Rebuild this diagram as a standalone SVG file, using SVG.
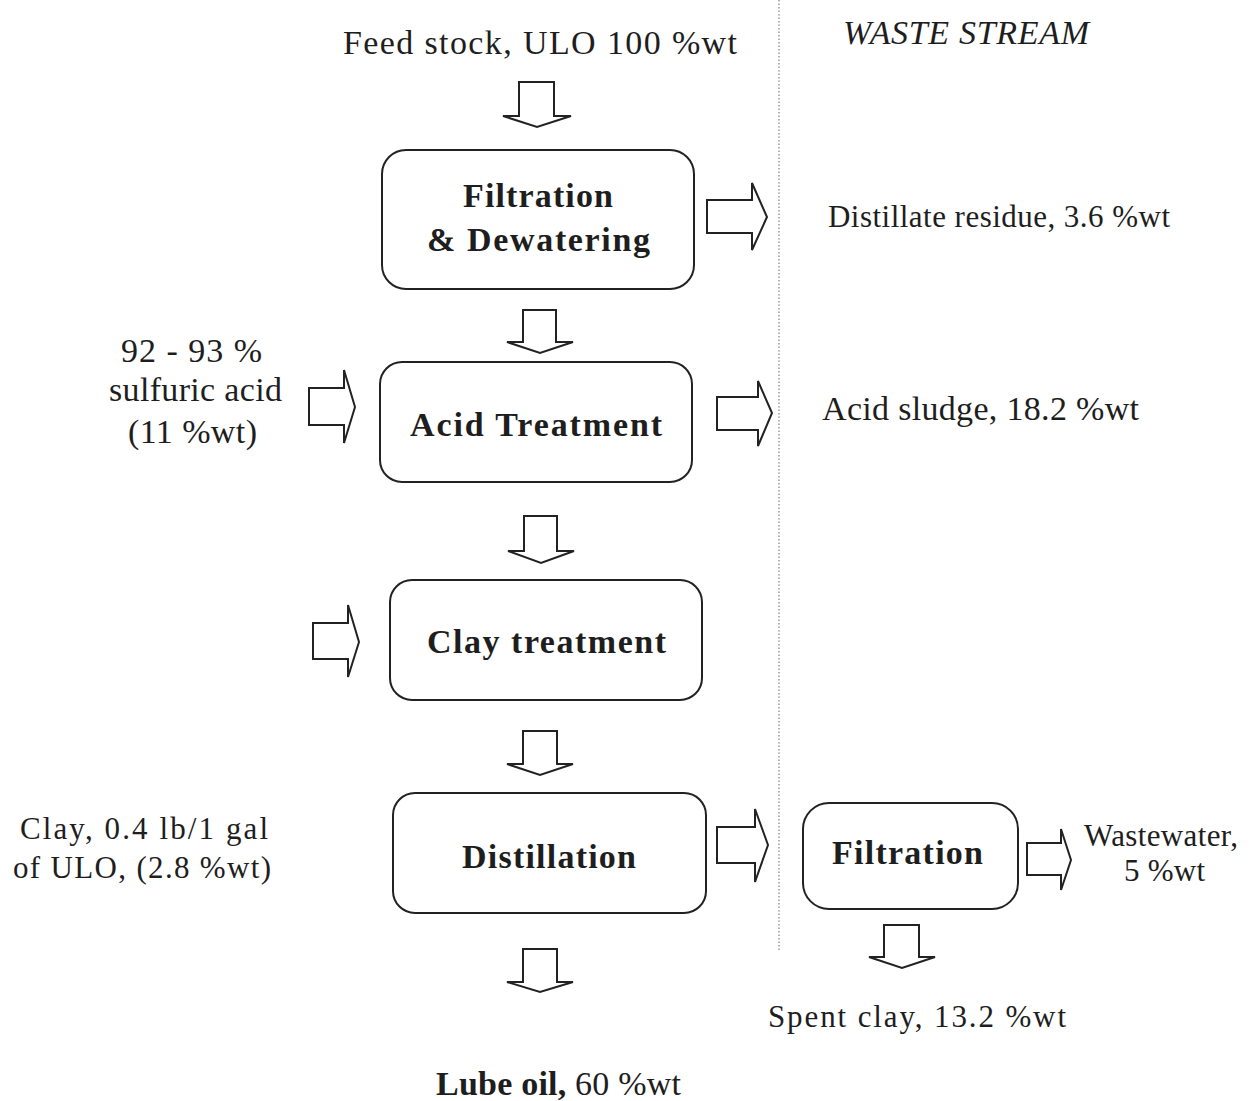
<svg xmlns="http://www.w3.org/2000/svg" width="1259" height="1101" viewBox="0 0 1259 1101">
  <style>
    .box { fill: #ffffff; stroke: #222; stroke-width: 2; }
    .arr { fill: #ffffff; stroke: #222; stroke-width: 2; stroke-linejoin: miter; }
    .t { font-family: "Liberation Serif", "Times New Roman", serif; font-size: 34px; fill: #1e1e1e; }
    .s { font-size: 31px; }
    .b { font-weight: bold; }
    .i { font-style: italic; }
    .sep { stroke: #9a9a9a; stroke-width: 1.5; stroke-dasharray: 1.5 2; fill: none; }
  </style>
  <rect width="1259" height="1101" fill="#ffffff"/>

  <!-- boundary between process and waste stream -->
  <line class="sep" x1="779" y1="0" x2="779" y2="950"/>

  <!-- process nodes -->
  <g id="filtration-dewatering">
    <rect class="box" x="382" y="150" width="312" height="139" rx="24"/>
    <text class="t b" x="463" y="207" textLength="150" lengthAdjust="spacing">Filtration</text>
    <text class="t b" x="427" y="251" textLength="223" lengthAdjust="spacing">&amp; Dewatering</text>
  </g>
  <g id="acid-treatment">
    <rect class="box" x="380" y="362" width="312" height="120" rx="22"/>
    <text class="t b" x="410" y="436" textLength="252" lengthAdjust="spacing">Acid Treatment</text>
  </g>
  <g id="clay-treatment">
    <rect class="box" x="390" y="580" width="312" height="120" rx="22"/>
    <text class="t b" x="427" y="653" textLength="239" lengthAdjust="spacing">Clay treatment</text>
  </g>
  <g id="distillation">
    <rect class="box" x="393" y="793" width="313" height="120" rx="22"/>
    <text class="t b" x="462" y="868" textLength="174" lengthAdjust="spacing">Distillation</text>
  </g>
  <g id="filtration">
    <rect class="box" x="803" y="803" width="215" height="106" rx="26"/>
    <text class="t b" x="832" y="864" textLength="151" lengthAdjust="spacing">Filtration</text>
  </g>

  <!-- stream labels -->
  <g id="feed">
    <text class="t" x="343" y="54" textLength="394" lengthAdjust="spacing">Feed stock, ULO 100 %wt</text>
  </g>
  <g id="waste-heading">
    <text class="t i" x="843" y="44" textLength="246" lengthAdjust="spacing">WASTE STREAM</text>
  </g>
  <g id="distillate-residue">
    <text class="t s" x="828" y="227" textLength="342" lengthAdjust="spacing">Distillate residue, 3.6 %wt</text>
  </g>
  <g id="sulfuric-acid">
    <text class="t" x="121" y="362" textLength="141" lengthAdjust="spacing">92 - 93 %</text>
    <text class="t" x="109" y="401" textLength="173" lengthAdjust="spacing">sulfuric acid</text>
    <text class="t" x="128" y="443" textLength="129" lengthAdjust="spacing">(11 %wt)</text>
  </g>
  <g id="acid-sludge">
    <text class="t" x="822" y="420" textLength="317" lengthAdjust="spacing">Acid sludge, 18.2 %wt</text>
  </g>
  <g id="clay">
    <text class="t s" x="20" y="839" textLength="248" lengthAdjust="spacing">Clay, 0.4 lb/1 gal</text>
    <text class="t s" x="13" y="878" textLength="258" lengthAdjust="spacing">of ULO, (2.8 %wt)</text>
  </g>
  <g id="wastewater">
    <text class="t s" x="1084" y="846" textLength="154" lengthAdjust="spacing">Wastewater,</text>
    <text class="t s" x="1124" y="881" textLength="81" lengthAdjust="spacing">5 %wt</text>
  </g>
  <g id="spent-clay">
    <text class="t s" x="768" y="1027" textLength="298" lengthAdjust="spacing">Spent clay, 13.2 %wt</text>
  </g>
  <g id="lube-oil">
    <text class="t" x="436" y="1095" textLength="245" lengthAdjust="spacing"><tspan class="b">Lube oil,</tspan> 60 %wt</text>
  </g>

  <!-- block arrows -->
  <g id="connectors">
    <!-- downward -->
    <polygon class="arr" points="519,82 554,82 554,116 571,116 537,127 503,116 519,116"/>
    <polygon class="arr" points="523,310 556,310 556,342 573,342 540,353 507,342 523,342"/>
    <polygon class="arr" points="524,516 557,516 557,551 574,551 541,563 508,551 524,551"/>
    <polygon class="arr" points="523,731 557,731 557,764 573,764 540,775 507,764 523,764"/>
    <polygon class="arr" points="523,949 557,949 557,982 573,982 540,992 507,982 523,982"/>
    <polygon class="arr" points="884,925 919,925 919,957 935,957 902,968 869,957 884,957"/>
    <!-- rightward -->
    <polygon class="arr" points="707,200 752,200 752,183 767,217 752,250 752,233 707,233"/>
    <polygon class="arr" points="717,397 758,397 758,381 772,413 758,446 758,430 717,430"/>
    <polygon class="arr" points="309,388 344,388 344,370 355,407 344,443 344,425 309,425"/>
    <polygon class="arr" points="313,623 348,623 348,605 359,642 348,677 348,659 313,659"/>
    <polygon class="arr" points="717,827 755,827 755,809 768,845 755,882 755,863 717,863"/>
    <polygon class="arr" points="1027,843 1061,843 1061,829 1071,860 1061,890 1061,875 1027,875"/>
  </g>
</svg>
